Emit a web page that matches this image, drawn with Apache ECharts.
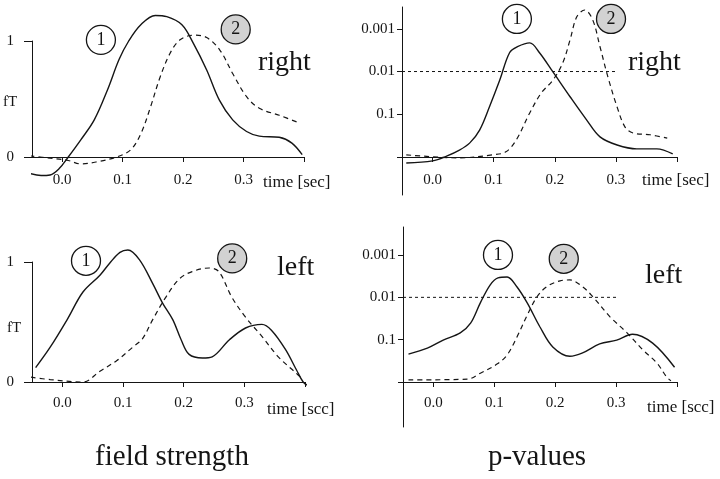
<!DOCTYPE html>
<html>
<head>
<meta charset="utf-8">
<script src="https://cdn.jsdelivr.net/npm/echarts@6/dist/echarts.min.js"></script>
<style>html,body{margin:0;padding:0;background:#fff}#c{width:720px;height:479px}</style>
</head>
<body>
<div id="c"></div>
<script>
// ---- data: [time (sec), value] ----
// field strength (fT), right hemisphere
const fieldRight1 = [[-0.055,-0.14],[-0.035,-0.16],[-0.02,-0.155],[-0.005,-0.1],[0.01,0],[0.031,0.15],[0.053,0.32],[0.075,0.58],[0.094,0.84],[0.11,1.0],[0.13,1.14],[0.154,1.22],[0.173,1.21],[0.198,1.14],[0.217,0.98],[0.239,0.75],[0.26,0.49],[0.282,0.32],[0.305,0.22],[0.326,0.18],[0.359,0.17],[0.38,0.12],[0.397,0.02]];
const fieldRight2 = [[-0.054,0.01],[-0.02,-0.01],[0.01,-0.03],[0.031,-0.06],[0.059,-0.04],[0.09,0.0],[0.113,0.06],[0.13,0.2],[0.146,0.43],[0.162,0.69],[0.179,0.9],[0.195,1.01],[0.217,1.05],[0.239,1.03],[0.261,0.92],[0.282,0.72],[0.305,0.52],[0.326,0.42],[0.359,0.36],[0.389,0.3]];
// field strength (fT), left hemisphere
const fieldLeft1 = [[-0.044,0.12],[-0.02,0.29],[0.008,0.52],[0.034,0.75],[0.062,0.89],[0.078,0.99],[0.095,1.08],[0.108,1.1],[0.127,1.02],[0.149,0.82],[0.165,0.66],[0.182,0.52],[0.196,0.35],[0.209,0.23],[0.231,0.2],[0.247,0.21],[0.275,0.35],[0.302,0.45],[0.329,0.48],[0.345,0.43],[0.368,0.27],[0.386,0.1],[0.397,0],[0.405,-0.03]];
const fieldLeft2 = [[-0.052,0.04],[-0.02,0.02],[0.034,0],[0.062,0.09],[0.09,0.18],[0.116,0.29],[0.132,0.36],[0.149,0.52],[0.171,0.71],[0.193,0.86],[0.214,0.92],[0.242,0.95],[0.258,0.92],[0.279,0.71],[0.302,0.54],[0.329,0.38],[0.356,0.21],[0.384,0.08],[0.397,0.02]];
// p-values as -log10(p), right hemisphere
const pRight1 = [[-0.043,-0.14],[0,-0.09],[0.023,0.02],[0.044,0.16],[0.061,0.33],[0.077,0.63],[0.093,1.17],[0.11,1.8],[0.126,2.44],[0.139,2.58],[0.159,2.67],[0.175,2.44],[0.197,1.99],[0.225,1.41],[0.252,0.87],[0.274,0.47],[0.302,0.28],[0.334,0.19],[0.367,0.19],[0.393,0.07]];
const pRight2 = [[-0.043,0.05],[0.044,-0.02],[0.098,0.05],[0.12,0.12],[0.137,0.4],[0.159,1.03],[0.178,1.5],[0.197,1.8],[0.213,2.2],[0.225,2.74],[0.236,3.28],[0.249,3.44],[0.262,3.21],[0.274,2.58],[0.287,1.87],[0.302,1.17],[0.315,0.7],[0.328,0.56],[0.356,0.52],[0.384,0.44]];
// p-values as -log10(p), left hemisphere
const pLeft1 = [[-0.041,0.66],[-0.01,0.8],[0.016,0.99],[0.044,1.16],[0.061,1.39],[0.077,1.87],[0.093,2.29],[0.106,2.46],[0.121,2.48],[0.137,2.25],[0.154,1.87],[0.175,1.3],[0.196,0.83],[0.224,0.61],[0.245,0.69],[0.273,0.9],[0.301,0.99],[0.327,1.13],[0.36,0.92],[0.396,0.35]];
const pLeft2 = [[-0.041,0.05],[0.056,0.07],[0.077,0.21],[0.105,0.43],[0.121,0.64],[0.137,1.06],[0.154,1.58],[0.17,2.01],[0.186,2.25],[0.208,2.39],[0.224,2.41],[0.245,2.25],[0.262,2.01],[0.29,1.54],[0.318,1.16],[0.344,0.76],[0.367,0.45],[0.383,0.12],[0.39,0.03]];
// significance threshold p = 0.01 -> -log10 = 2
const thresholdLine = [[-0.05,2],[0.3,2]];
// tick values
const timeTicks = [0, 0.1, 0.2, 0.3, 0.4];
const timeLabels = [0, 0.1, 0.2, 0.3];
const pTicks = [0, 1, 2, 3];
const pLabels = [1, 2, 3];
// component marker positions [time, value, label]
const markRightField = [[0.064,1.01,'1'],[0.287,1.10,'2']];
const markRightP = [[0.138,3.23,'1'],[0.292,3.23,'2']];
const markLeftField = [[0.039,1.01,'1'],[0.28,1.03,'2']];
const markLeftP = [[0.106,3.0,'1'],[0.214,2.91,'2']];

const INK = '#151515';
const SERIF = '"Liberation Serif", "Times New Roman", serif';

function xAxis(gi, offset, margin) {
  return {
    type: 'value', gridIndex: gi, min: -0.05, max: 0.4, position: 'bottom', offset: offset,
    axisLine: { onZero: false, lineStyle: { color: INK, width: 1 } },
    axisTick: { show: true, length: 5, customValues: timeTicks, lineStyle: { color: INK } },
    axisLabel: { customValues: timeLabels, margin: margin, color: INK, fontFamily: SERIF, fontSize: 15,
      formatter: v => v.toFixed(1) },
    splitLine: { show: false }
  };
}
function yField(gi) {
  return {
    type: 'value', gridIndex: gi, min: 0, max: 1, interval: 1,
    axisLine: { show: true, onZero: false, lineStyle: { color: INK } },
    axisTick: { show: true, length: 8, lineStyle: { color: INK } },
    axisLabel: { margin: 18, color: INK, fontFamily: SERIF, fontSize: 15 },
    splitLine: { show: false }
  };
}
function yP(gi, min, max) {
  return {
    type: 'value', gridIndex: gi, min: min, max: max,
    axisLine: { show: true, onZero: false, lineStyle: { color: INK } },
    axisTick: { show: true, length: 5, customValues: pTicks, lineStyle: { color: INK } },
    axisLabel: { customValues: pLabels, margin: 7, color: INK, fontFamily: SERIF, fontSize: 15,
      formatter: v => String(Math.pow(10, -v).toFixed(v)) },
    splitLine: { show: false }
  };
}
function curve(gi, data, dashed) {
  return {
    type: 'line', xAxisIndex: gi, yAxisIndex: gi, data: data, smooth: 0.35,
    showSymbol: false, clip: false, silent: true,
    lineStyle: { color: INK, width: dashed ? 1.2 : 1.4, type: dashed ? [5, 4] : 'solid' }
  };
}
function threshold(gi) {
  return {
    type: 'line', xAxisIndex: gi, yAxisIndex: gi, data: thresholdLine,
    showSymbol: false, silent: true,
    lineStyle: { color: INK, width: 1, type: [3, 3] }
  };
}
function markers(gi, data) {
  return {
    type: 'scatter', xAxisIndex: gi, yAxisIndex: gi, data: data, clip: false, silent: true,
    symbol: 'circle', symbolSize: 29, z: 5,
    itemStyle: {
      color: p => p.data[2] === '2' ? '#d2d2d2' : '#ffffff',
      borderColor: INK, borderWidth: 1.3, opacity: 1
    },
    label: { show: true, position: 'inside', formatter: p => p.data[2],
      color: INK, fontFamily: SERIF, fontSize: 18 }
  };
}
function txt(x, y, s, size, align) {
  return { type: 'text', x: x, y: y, silent: true,
    style: { text: s, fill: INK, font: size + 'px ' + SERIF, align: align || 'left', verticalAlign: 'middle' } };
}
function grid(left, top, width, height) {
  return { left: left, top: top, width: width, height: height, containLabel: false, outerBoundsMode: 'none' };
}

const chart = echarts.init(document.getElementById('c'), null, { renderer: 'canvas' });
chart.setOption({
  backgroundColor: '#ffffff',
  animation: false,
  grid: [
    grid(32, 41, 272, 116),
    grid(402, 7, 275, 188),
    grid(32, 262, 273, 120),
    grid(403, 227, 274, 200)
  ],
  xAxis: [xAxis(0, 0, 16), xAxis(1, -38, 16), xAxis(2, 0, 14), xAxis(3, -45, 14)],
  yAxis: [yField(0), yP(1, -0.89, 3.51), yField(2), yP(3, -1.06, 3.66)],
  series: [
    curve(0, fieldRight1, false), curve(0, fieldRight2, true), markers(0, markRightField),
    threshold(1), curve(1, pRight1, false), curve(1, pRight2, true), markers(1, markRightP),
    curve(2, fieldLeft1, false), curve(2, fieldLeft2, true), markers(2, markLeftField),
    threshold(3), curve(3, pLeft1, false), curve(3, pLeft2, true), markers(3, markLeftP)
  ],
  graphic: [
    txt(3, 102, 'fT', 15), txt(7, 328, 'fT', 15),
    txt(258, 63, 'right', 28), txt(628, 63, 'right', 28),
    txt(277, 268, 'left', 28), txt(645, 276, 'left', 28),
    txt(263, 183, 'time [sec]', 17), txt(642, 181, 'time [sec]', 17),
    txt(267, 410, 'time [scc]', 17), txt(647, 408, 'time [scc]', 17),
    txt(172, 457, 'field strength', 29, 'center'), txt(537, 457, 'p-values', 29, 'center')
  ]
});
</script>
</body>
</html>
